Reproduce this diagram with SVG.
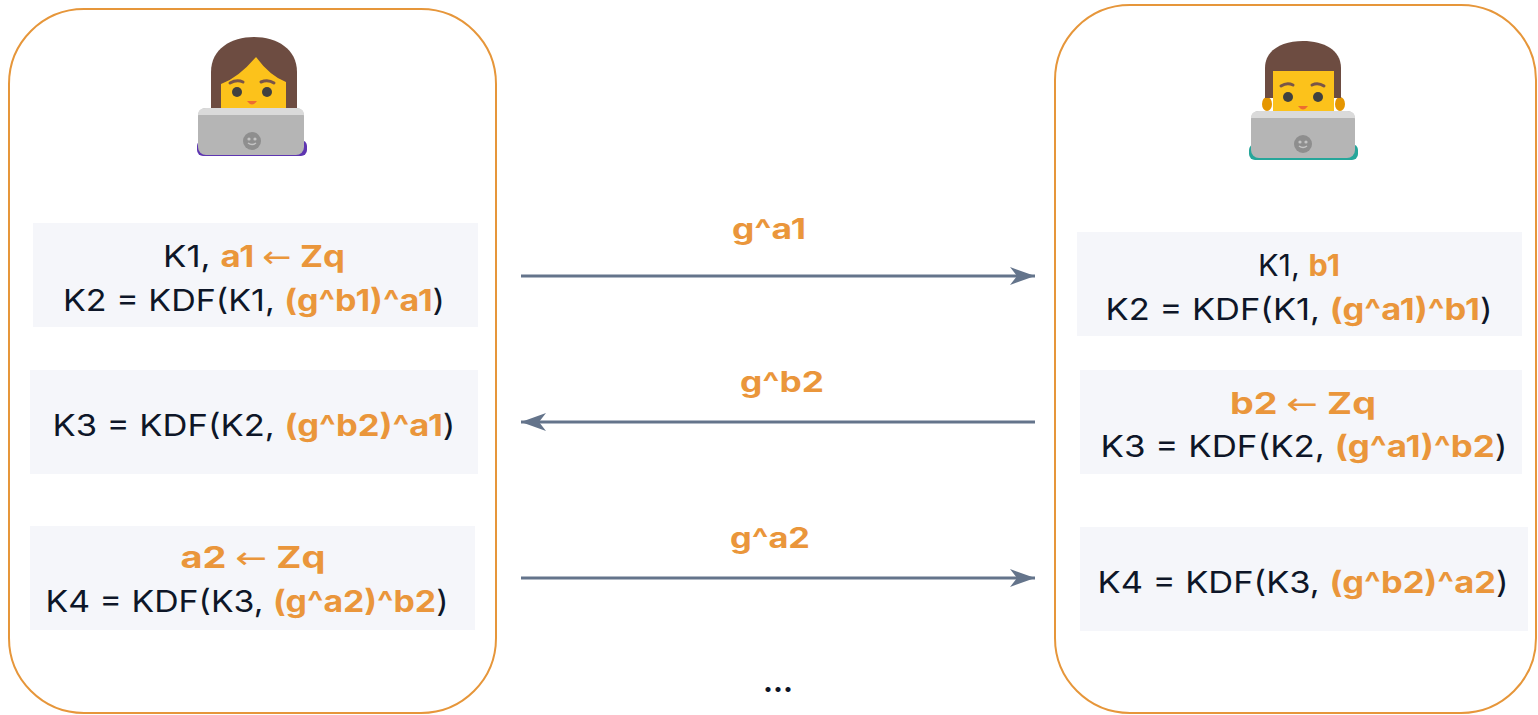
<svg xmlns="http://www.w3.org/2000/svg" width="1538" height="715" viewBox="0 0 1538 715">
  <defs>
    <style>
      .party { fill: #ffffff; stroke: #E6963A; stroke-width: 2; }
      .step { fill: #F5F6FA; }
      .t { font-family: "Inter", "Noto Sans", "DejaVu Sans", sans-serif; font-size: 30px; fill: #0E1628; text-anchor: middle; }
      .hl { fill: #EA963B; font-weight: 700; }
      .arr { font-family: "DejaVu Sans", sans-serif; font-weight: 400; }
      .msg { font-family: "Inter", "Noto Sans", "DejaVu Sans", sans-serif; font-size: 28px; font-weight: 700; fill: #EA963B; text-anchor: middle; }
      .wire { stroke: #64748B; stroke-width: 3; fill: none; }
      .hair { fill: #6D4C41; }
      .skin { fill: #FCC21B; }
      .brow { stroke: #795548; stroke-width: 3; fill: none; stroke-linecap: round; }
      .eye { fill: #404040; }
      .mouth { fill: #ED6C30; }
      .lidtop { fill: #DADADA; }
      .lid { fill: #B5B5B5; }
      .logo { fill: #8E8E8E; }
      .logofeat { fill: #C4C4C4; }
    </style>
    <marker id="head" markerUnits="userSpaceOnUse" markerWidth="26" markerHeight="20" refX="25" refY="9" orient="auto">
      <path d="M0,0 L25,9 L0,18 L7,9 Z" fill="#64748B"/>
    </marker>
  </defs>

  <!-- Alice -->
  <g id="alice">
    <rect class="party" x="9" y="9" width="487" height="704" rx="75" ry="75"/>
    <g id="alice-avatar">
      <path class="hair" d="M211,114 L211,72 C211,49 231,37 254,37 C277,37 297,49 297,72 L297,114 Z"/>
      <path class="skin" d="M221,116 L221,84 Q238,78 256,57 Q270,76 286,82 L286,116 Z"/>
      <path class="brow" d="M230,83 Q237,79 243,82"/>
      <path class="brow" d="M261,82 Q268,79 274,83"/>
      <circle class="eye" cx="237" cy="92" r="5"/>
      <circle class="eye" cx="267" cy="92" r="5"/>
      <path class="mouth" d="M247,101 Q252,108 257,101 Z"/>
      <rect x="197" y="140" width="110" height="16" rx="6" fill="#5E35B1"/>
      <rect class="lid" x="198" y="108" width="106" height="47" rx="8"/>
      <path class="lidtop" d="M206,108 L296,108 Q304,108 304,115 L198,115 Q198,108 206,108 Z"/>
      <circle class="logo" cx="252" cy="141" r="9"/>
      <circle class="logofeat" cx="249" cy="139" r="1.6"/>
      <circle class="logofeat" cx="255" cy="139" r="1.6"/>
      <path d="M248,143 Q252,146 256,143" stroke="#C4C4C4" stroke-width="1.5" fill="none"/>
    </g>
  </g>

  <!-- Bob -->
  <g id="bob">
    <rect class="party" x="1055" y="5" width="481" height="708" rx="75" ry="75"/>
    <g id="bob-avatar">
      <ellipse cx="1267" cy="104" rx="5" ry="7" fill="#E59600"/>
      <ellipse cx="1340" cy="104" rx="5" ry="7" fill="#E59600"/>
      <path class="hair" d="M1265,98 L1265,68 C1265,50 1282,41 1303,41 C1324,41 1341,50 1341,68 L1341,98 Z"/>
      <path class="skin" d="M1273,120 L1273,71 L1334,71 L1334,120 Z"/>
      <path class="brow" d="M1281,86 Q1287,82 1293,85"/>
      <path class="brow" d="M1312,85 Q1318,82 1324,86"/>
      <circle class="eye" cx="1288" cy="97" r="5"/>
      <circle class="eye" cx="1318" cy="97" r="5"/>
      <path class="mouth" d="M1298,106 Q1303,113 1308,106 Z"/>
      <rect x="1249" y="144" width="109" height="16" rx="6" fill="#26A69A"/>
      <rect class="lid" x="1251" y="111" width="104" height="47" rx="8"/>
      <path class="lidtop" d="M1259,111 L1347,111 Q1355,111 1355,118 L1251,118 Q1251,111 1259,111 Z"/>
      <circle class="logo" cx="1303" cy="144" r="9"/>
      <circle class="logofeat" cx="1300" cy="142" r="1.6"/>
      <circle class="logofeat" cx="1306" cy="142" r="1.6"/>
      <path d="M1299,146 Q1303,149 1307,146" stroke="#C4C4C4" stroke-width="1.5" fill="none"/>
    </g>
  </g>

  <!-- Alice's steps -->
  <g id="alice-step1">
    <rect class="step" x="33" y="223" width="445" height="104"/>
    <text class="t" x="254" y="267" textLength="182" lengthAdjust="spacingAndGlyphs">K1, <tspan class="hl">a1 <tspan class="arr">←</tspan> Zq</tspan></text>
    <text class="t" x="254" y="311" textLength="382" lengthAdjust="spacingAndGlyphs">K2 = KDF(K1, <tspan class="hl">(g^b1)^a1</tspan>)</text>
  </g>
  <g id="alice-step2">
    <rect class="step" x="30" y="370" width="448" height="104"/>
    <text class="t" x="254" y="436" textLength="403" lengthAdjust="spacingAndGlyphs">K3 = KDF(K2, <tspan class="hl">(g^b2)^a1</tspan>)</text>
  </g>
  <g id="alice-step3">
    <rect class="step" x="30" y="526" width="445" height="104"/>
    <text class="t" x="253" y="568" textLength="145" lengthAdjust="spacingAndGlyphs"><tspan class="hl">a2 <tspan class="arr">←</tspan> Zq</tspan></text>
    <text class="t" x="247" y="612" textLength="403" lengthAdjust="spacingAndGlyphs">K4 = KDF(K3, <tspan class="hl">(g^a2)^b2</tspan>)</text>
  </g>

  <!-- Bob's steps -->
  <g id="bob-step1">
    <rect class="step" x="1077" y="232" width="445" height="104"/>
    <text class="t" x="1299" y="276" textLength="82" lengthAdjust="spacingAndGlyphs">K1, <tspan class="hl">b1</tspan></text>
    <text class="t" x="1299" y="320" textLength="387" lengthAdjust="spacingAndGlyphs">K2 = KDF(K1, <tspan class="hl">(g^a1)^b1</tspan>)</text>
  </g>
  <g id="bob-step2">
    <rect class="step" x="1080" y="370" width="442" height="104"/>
    <text class="t" x="1303" y="414" textLength="146" lengthAdjust="spacingAndGlyphs"><tspan class="hl">b2 <tspan class="arr">←</tspan> Zq</tspan></text>
    <text class="t" x="1304" y="457" textLength="407" lengthAdjust="spacingAndGlyphs">K3 = KDF(K2, <tspan class="hl">(g^a1)^b2</tspan>)</text>
  </g>
  <g id="bob-step3">
    <rect class="step" x="1080" y="527" width="448" height="104"/>
    <text class="t" x="1303" y="593" textLength="411" lengthAdjust="spacingAndGlyphs">K4 = KDF(K3, <tspan class="hl">(g^b2)^a2</tspan>)</text>
  </g>

  <!-- Messages -->
  <g id="connectors">
    <line class="wire" x1="521" y1="276" x2="1035" y2="276" marker-end="url(#head)"/>
    <line class="wire" x1="1035" y1="422" x2="521" y2="422" marker-end="url(#head)"/>
    <line class="wire" x1="521" y1="578" x2="1035" y2="578" marker-end="url(#head)"/>
    <text class="msg" x="769" y="239" textLength="74" lengthAdjust="spacingAndGlyphs">g^a1</text>
    <text class="msg" x="782" y="392" textLength="84" lengthAdjust="spacingAndGlyphs">g^b2</text>
    <text class="msg" x="770" y="548" textLength="80" lengthAdjust="spacingAndGlyphs">g^a2</text>
  </g>

  <text class="t" x="778" y="692" style="font-weight:700">...</text>
</svg>
